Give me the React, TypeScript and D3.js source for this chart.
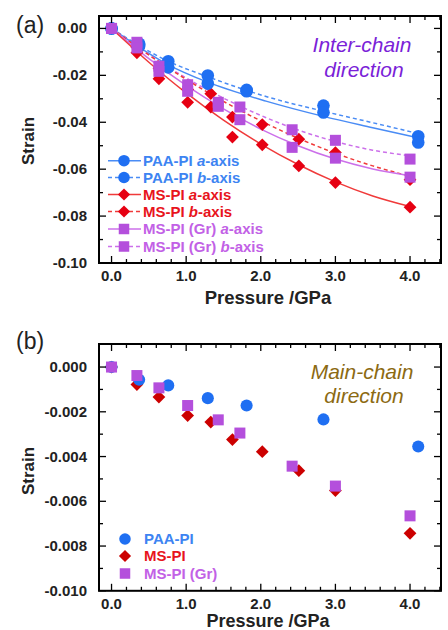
import React from 'react';
import * as d3 from 'd3';

// ---------- data ----------
const paaX = [0, 0.37, 0.76, 1.29, 1.81, 2.84, 4.11];
const msX = [0, 0.34, 0.635, 1.02, 1.33, 1.62, 2.02, 2.51, 3.0, 4.0];
const grX = [0, 0.34, 0.635, 1.02, 1.43, 1.72, 2.42, 3.0, 4.0];

// panel (a): inter-chain strain
const paaA = [0, -0.0075, -0.0166, -0.0235, -0.0268, -0.0358, -0.0486];
const paaB = [0, -0.0065, -0.014, -0.0201, -0.0262, -0.0329, -0.046];
const msA = [0, -0.0104, -0.0215, -0.0315, -0.0335, -0.0463, -0.0496, -0.0586, -0.0657, -0.0762];
const msB = [0, -0.008, -0.017, -0.026, -0.0278, -0.0378, -0.041, -0.0472, -0.0529, -0.0645];
const grA = [0, -0.0083, -0.0183, -0.0268, -0.0332, -0.0389, -0.0507, -0.0553, -0.0634];
const grB = [0, -0.0059, -0.0161, -0.024, -0.0315, -0.0335, -0.0432, -0.0477, -0.0557];

// fitted curves
const fitX = [0, 0.5, 1, 1.5, 2, 2.5, 3, 3.5, 4];
const fitXBlue = [0, 0.76, 1.28, 2.07, 2.84, 3.5, 4.12];
const fitPaaA = [0, -0.0155, -0.0228, -0.031, -0.0375, -0.0423, -0.0467];
const fitPaaB = [0, -0.014, -0.0205, -0.029, -0.0353, -0.0402, -0.0449];
const fitMsA = [0, -0.0144, -0.0275, -0.0391, -0.0493, -0.058, -0.0654, -0.0714, -0.0759];
const fitMsB = [0, -0.0113, -0.0217, -0.0311, -0.0394, -0.0468, -0.0532, -0.0586, -0.063];
const fitGrA = [0, -0.0129, -0.0243, -0.0343, -0.0429, -0.05, -0.0557, -0.0599, -0.0628];
const fitGrB = [0, -0.0112, -0.0211, -0.0297, -0.0371, -0.0433, -0.0482, -0.0519, -0.0543];

// panel (b): main-chain strain
const paaMain = [0, -0.00057, -0.00082, -0.00139, -0.00172, -0.00234, -0.00355];
const msMain = [0, -0.00078, -0.00134, -0.00217, -0.00246, -0.00324, -0.00378, -0.00463, -0.00552, -0.00743];
const grMain = [0, -0.00038, -0.00093, -0.00172, -0.00236, -0.00295, -0.00443, -0.00532, -0.00665];

const xTickLabels = ['0.0', '1.0', '2.0', '3.0', '4.0'];
const yTicksA = [0, -0.02, -0.04, -0.06, -0.08, -0.1];
const yTicksB = [0, -0.002, -0.004, -0.006, -0.008, -0.01];

// ---------- style ----------
const FONT = "'Liberation Sans', Arial, Helvetica, sans-serif";
const BLUE = '#1f6ff2';
const BLUE_L = '#4a8cf5';
const RED = '#e60012';
const RED_L = '#f03a3a';
const RED_B = '#cc0000';
const MAG = '#b44fdc';
const MAG_L = '#cc70ea';
const BLUE_T = '#3d84f2';
const RED_T = '#e8141c';
const MAG_T = '#c261e6';

const X0 = 99, X1 = 441;
const xDomain: [number, number] = [-0.168, 4.415];

type Marker = 'circle' | 'diamond' | 'square';

function MarkerShape({ kind, cx, cy, color, s }: { kind: Marker; cx: number; cy: number; color: string; s: number }) {
  if (kind === 'circle') return <circle cx={cx} cy={cy} r={s * 0.55} fill={color} />;
  if (kind === 'square') return <rect x={cx - s / 2} y={cy - s / 2} width={s} height={s} fill={color} />;
  const h = s * 0.58;
  return <path d={`M${cx},${cy - h}L${cx + h},${cy}L${cx},${cy + h}L${cx - h},${cy}Z`} fill={color} />;
}

function Frame({ x, y, yMajor, yMinor, yFmt, top, bottom }: any) {
  const minorX = d3.range(0, 4.41, 0.2);
  const majorX = d3.range(0, 5, 1);
  return (
    <g>
      {minorX.map((v, i) => {
        const isMajor = Math.abs(v - Math.round(v)) < 1e-6;
        const L = isMajor ? 7 : 4;
        return (
          <g key={'xt' + i}>
            <line x1={x(v)} x2={x(v)} y1={bottom} y2={bottom - L} stroke="#000" strokeWidth={1.3} />
            <line x1={x(v)} x2={x(v)} y1={top} y2={top + L} stroke="#000" strokeWidth={1.3} />
          </g>
        );
      })}
      {yMinor.map((v: number, i: number) => {
        const isMajor = yMajor.some((m: number) => Math.abs(m - v) < 1e-9);
        const L = isMajor ? 7 : 4;
        return (
          <g key={'yt' + i}>
            <line x1={X0} x2={X0 + L} y1={y(v)} y2={y(v)} stroke="#000" strokeWidth={1.3} />
            <line x1={X1} x2={X1 - L} y1={y(v)} y2={y(v)} stroke="#000" strokeWidth={1.3} />
          </g>
        );
      })}
      <rect x={X0} y={top} width={X1 - X0} height={bottom - top} fill="none" stroke="#000" strokeWidth={2} />
      {majorX.map((v, i) => (
        <text key={'xl' + i} x={x(v)} y={bottom + 18} textAnchor="middle" fontFamily={FONT} fontWeight="bold" fontSize={15} fill="#222">
          {xTickLabels[i]}
        </text>
      ))}
      {yMajor.map((v: number, i: number) => (
        <text key={'yl' + i} x={87} y={y(v) + 5} textAnchor="end" fontFamily={FONT} fontWeight="bold" fontSize={15} fill="#222">
          {yFmt(v)}
        </text>
      ))}
    </g>
  );
}

function Series({ xs, ys, x, y, kind, color, s }: any) {
  return (
    <g>
      {xs.map((v: number, i: number) => (
        <MarkerShape key={i} kind={kind} cx={x(v)} cy={y(ys[i])} color={color} s={s} />
      ))}
    </g>
  );
}

function FitLine({ xs, ys, x, y, color, dashed }: any) {
  const line = d3
    .line<number>()
    .x((_, i) => x(xs[i]))
    .y((d) => y(d))
    .curve(d3.curveMonotoneX);
  return <path d={line(ys) || ''} fill="none" stroke={color} strokeWidth={1.5} strokeDasharray={dashed ? '4,3' : undefined} />;
}

export default function App() {
  // panel a
  const xA = d3.scaleLinear().domain(xDomain).range([X0, X1]);
  const topA = 16, botA = 263;
  const yA = d3.scaleLinear().domain([-0.1, 0.0053]).range([botA, topA]);
  // panel b
  const topB = 344, botB = 590.8;
  const yB = d3.scaleLinear().domain([-0.01, 0.00103]).range([botB, topB]);

  const minorA = d3.range(0, -0.1001, -0.01).map((v) => +v.toFixed(4));
  const minorB = d3.range(0, -0.01001, -0.001).map((v) => +v.toFixed(5));

  const legendA = [
    { kind: 'circle', color: BLUE, line: BLUE_L, dashed: false, txt: BLUE_T, pre: 'PAA-PI ', ax: 'a' },
    { kind: 'circle', color: BLUE, line: BLUE_L, dashed: true, txt: BLUE_T, pre: 'PAA-PI ', ax: 'b' },
    { kind: 'diamond', color: RED, line: RED_L, dashed: false, txt: RED_T, pre: 'MS-PI ', ax: 'a' },
    { kind: 'diamond', color: RED, line: RED_L, dashed: true, txt: RED_T, pre: 'MS-PI ', ax: 'b' },
    { kind: 'square', color: MAG, line: MAG_L, dashed: false, txt: MAG_T, pre: 'MS-PI (Gr) ', ax: 'a' },
    { kind: 'square', color: MAG, line: MAG_L, dashed: true, txt: MAG_T, pre: 'MS-PI (Gr) ', ax: 'b' },
  ];
  const legendAY = [160.7, 177.5, 194.5, 211.5, 229, 246.5];

  const legendB = [
    { kind: 'circle', color: BLUE, txt: BLUE_T, label: 'PAA-PI' },
    { kind: 'diamond', color: RED_B, txt: RED_T, label: 'MS-PI' },
    { kind: 'square', color: MAG, txt: MAG_T, label: 'MS-PI (Gr)' },
  ];
  const legendBY = [539, 556, 573.5];

  return (
    <svg width={448} height={630} style={{ position: 'absolute', left: 0, top: 0, background: '#fff' }}>
      <rect width={448} height={630} fill="#fff" />
      {/* ---------- panel (a) ---------- */}
      <text x={16} y={33} fontFamily={FONT} fontSize={23} fill="#222">(a)</text>
      <FitLine xs={fitXBlue} ys={fitPaaB} x={xA} y={yA} color={BLUE_L} dashed />
      <FitLine xs={fitXBlue} ys={fitPaaA} x={xA} y={yA} color={BLUE_L} />
      <FitLine xs={fitX} ys={fitGrB} x={xA} y={yA} color={MAG_L} dashed />
      <FitLine xs={fitX} ys={fitMsB} x={xA} y={yA} color={RED_L} dashed />
      <FitLine xs={fitX} ys={fitGrA} x={xA} y={yA} color={MAG_L} />
      <FitLine xs={fitX} ys={fitMsA} x={xA} y={yA} color={RED_L} />
      <Series xs={msX} ys={msB} x={xA} y={yA} kind="diamond" color={RED} s={11} />
      <Series xs={msX} ys={msA} x={xA} y={yA} kind="diamond" color={RED} s={11} />
      <Series xs={paaX} ys={paaB} x={xA} y={yA} kind="circle" color={BLUE} s={11.5} />
      <Series xs={paaX} ys={paaA} x={xA} y={yA} kind="circle" color={BLUE} s={11.5} />
      <Series xs={grX} ys={grB} x={xA} y={yA} kind="square" color={MAG} s={11} />
      <Series xs={grX} ys={grA} x={xA} y={yA} kind="square" color={MAG} s={11} />
      <Frame x={xA} y={yA} yMajor={yTicksA} yMinor={minorA} yFmt={(v: number) => v.toFixed(2)} top={topA} bottom={botA} />
      <text x={362} y={52} textAnchor="middle" fontFamily={FONT} fontStyle="italic" fontSize={21} fill="#7b1fd8">Inter-chain</text>
      <text x={364} y={77} textAnchor="middle" fontFamily={FONT} fontStyle="italic" fontSize={21} fill="#7b1fd8">direction</text>
      {legendA.map((d, i) => {
        const cy = legendAY[i];
        return (
          <g key={'la' + i}>
            <line x1={108} x2={141} y1={cy} y2={cy} stroke={d.line} strokeWidth={1.5} strokeDasharray={d.dashed ? '4,3' : undefined} />
            <MarkerShape kind={d.kind as Marker} cx={124} cy={cy} color={d.color} s={10.5} />
            <text x={143} y={cy + 5} fontFamily={FONT} fontWeight="bold" fontSize={15} fill={d.txt}>
              {d.pre}
              <tspan fontStyle="italic">{d.ax}</tspan>-axis
            </text>
          </g>
        );
      })}
      <text x={268} y={304} textAnchor="middle" fontFamily={FONT} fontWeight="bold" fontSize={18.5} fill="#222">Pressure /GPa</text>
      <text transform="translate(34,141) rotate(-90)" textAnchor="middle" fontFamily={FONT} fontWeight="bold" fontSize={17} fill="#222">Strain</text>

      {/* ---------- panel (b) ---------- */}
      <text x={16} y={349} fontFamily={FONT} fontSize={23} fill="#222">(b)</text>
      <Series xs={msX} ys={msMain} x={xA} y={yB} kind="diamond" color={RED_B} s={11} />
      <Series xs={paaX} ys={paaMain} x={xA} y={yB} kind="circle" color={BLUE} s={11} />
      <Series xs={grX} ys={grMain} x={xA} y={yB} kind="square" color={MAG} s={11} />
      <Frame x={xA} y={yB} yMajor={yTicksB} yMinor={minorB} yFmt={(v: number) => v.toFixed(3)} top={topB} bottom={botB} />
      <text x={362} y={379} textAnchor="middle" fontFamily={FONT} fontStyle="italic" fontSize={21} fill="#8c6a12">Main-chain</text>
      <text x={364} y={403} textAnchor="middle" fontFamily={FONT} fontStyle="italic" fontSize={21} fill="#8c6a12">direction</text>
      {legendB.map((d, i) => (
        <g key={'lb' + i}>
          <MarkerShape kind={d.kind as Marker} cx={125} cy={legendBY[i]} color={d.color} s={10.5} />
          <text x={144} y={legendBY[i] + 5} fontFamily={FONT} fontWeight="bold" fontSize={15} fill={d.txt}>{d.label}</text>
        </g>
      ))}
      <text x={268} y={627} textAnchor="middle" fontFamily={FONT} fontWeight="bold" fontSize={18} fill="#222">Pressure /GPa</text>
      <text transform="translate(34,471) rotate(-90)" textAnchor="middle" fontFamily={FONT} fontWeight="bold" fontSize={17} fill="#222">Strain</text>
    </svg>
  );
}
